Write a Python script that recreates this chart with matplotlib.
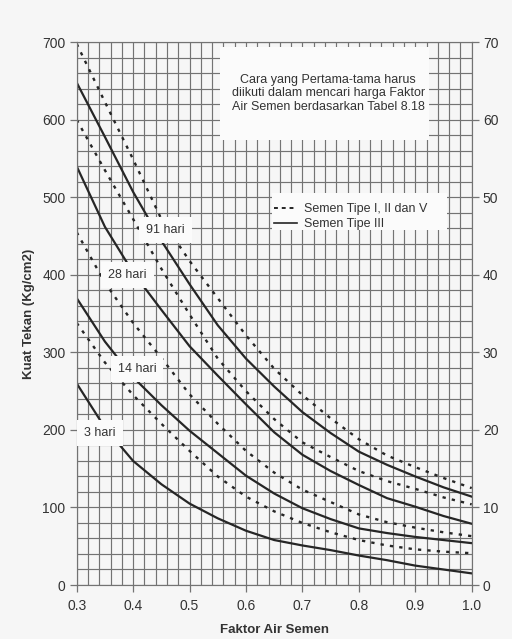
import matplotlib.pyplot as plt
from matplotlib.patches import Rectangle
from matplotlib.lines import Line2D
import numpy as np

plt.rcParams['font.family'] = ['Liberation Sans', 'DejaVu Sans']

# faktor air semen (x)
fas = [0.30, 0.35, 0.40, 0.45, 0.50, 0.55, 0.60, 0.65, 0.70, 0.75, 0.80, 0.85, 0.90, 0.95, 1.00]

# kuat tekan (kg/cm2)
tipe1_91 = [698, 623, 549, 472, 418, 370, 322, 279, 245, 215, 188, 167, 152, 138, 125]
tipe3_91 = [648, 578, 507, 444, 388, 335, 292, 256, 223, 196, 172, 155, 140, 126, 114]
tipe1_28 = [600, 535, 472, 408, 349, 292, 250, 214, 184, 165, 147, 134, 124, 113, 104]
tipe3_28 = [540, 462, 403, 355, 308, 270, 233, 197, 168, 147, 129, 112, 101, 89, 79]
tipe1_14 = [455, 390, 338, 293, 246, 208, 173, 145, 123, 107, 91, 81, 74, 68, 63]
tipe3_14 = [370, 314, 268, 232, 199, 170, 141, 118, 99, 85, 73, 67, 62, 58, 54]
tipe1_3 = [338, 287, 245, 208, 173, 140, 114, 95, 80, 68, 58, 51, 46, 43, 41]
tipe3_3 = [260, 203, 160, 130, 105, 86, 70, 58, 51, 45, 38, 32, 25, 20, 15]

dashed = [tipe1_91, tipe1_28, tipe1_14, tipe1_3]
solid = [tipe3_91, tipe3_28, tipe3_14, tipe3_3]

labels = ['91 hari', '28 hari', '14 hari', '3 hari']
label_x = [0.457, 0.390, 0.407, 0.341]
label_y = [458, 400, 279, 196]

note = 'Cara yang Pertama-tama harus\ndiikuti dalam mencari harga Faktor\nAir Semen berdasarkan Tabel 8.18'

bg = '#f6f6f6'
ink = '#262626'
gridc = '#737373'

fig = plt.figure(figsize=(5.12, 6.39), dpi=100, facecolor=bg)
ax = fig.add_axes([0.1498, 0.0845, 0.7715, 0.8493])
ax.set_facecolor(bg)

ax.set_xlim(0.3, 1.0)
ax.set_ylim(0, 700)
ax.set_xticks(np.arange(0.3, 1.001, 0.1))
ax.set_xticklabels(['0.3', '0.4', '0.5', '0.6', '0.7', '0.8', '0.9', '1.0'])
ax.set_xticks(np.arange(0.3, 1.001, 0.02), minor=True)
ax.set_yticks(np.arange(0, 701, 100))
ax.set_yticks(np.arange(0, 701, 20), minor=True)
ax.set_axisbelow(True)
ax.grid(which='both', color=gridc, linewidth=0.85)
ax.tick_params(which='major', length=5, width=0.9, color=gridc, labelsize=10, labelcolor='#333333', pad=3)
ax.tick_params(axis='x', pad=5)
ax.tick_params(which='minor', length=0)
for s in ax.spines.values():
    s.set_color(gridc)
    s.set_linewidth(0.85)

# right axis in MPa-like scale
ax2 = ax.twinx()
ax2.set_ylim(0, 70)
ax2.set_yticks(np.arange(0, 71, 10))
ax2.tick_params(length=5, width=0.9, color=gridc, labelsize=10, labelcolor='#333333', pad=3)
for s in ax2.spines.values():
    s.set_visible(False)

ax.set_xlabel('Faktor Air Semen', fontsize=9.5, fontweight='bold', color='#333333', labelpad=8)
ax.set_ylabel('Kuat Tekan (Kg/cm2)', fontsize=9.5, fontweight='bold', color='#333333', labelpad=5)

# white boxes that hide the grid
ax.add_patch(Rectangle((0.554, 574), 0.37, 120, facecolor='#fbfbfb', edgecolor='none', zorder=1))
ax.add_patch(Rectangle((0.646, 458), 0.311, 47, facecolor='#fbfbfb', edgecolor='none', zorder=1))

for y in dashed:
    ax.plot(fas, y, color=ink, linewidth=1.7, linestyle=(0, (1.4, 2.6)), zorder=2)
for y in solid:
    ax.plot(fas, y, color=ink, linewidth=1.6, zorder=2)

for t, lx, ly in zip(labels, label_x, label_y):
    ax.text(lx, ly, t, fontsize=9, color='#333333', ha='center', va='center', zorder=4,
            bbox=dict(facecolor='#fbfbfb', edgecolor='none', pad=5))

ax.text(0.746, 634, note, fontsize=9, color='#333333', ha='center', va='center',
        linespacing=1.15, zorder=4)

handles = [Line2D([], [], color=ink, linewidth=1.4, linestyle=(0, (2, 2))),
           Line2D([], [], color=ink, linewidth=1.2)]
leg = ax.legend(handles, ['Semen Tipe I, II dan V', 'Semen Tipe III'], loc='center',
                bbox_to_anchor=(0.786, 475), bbox_transform=ax.transData, frameon=False,
                fontsize=9, handlelength=1.8, handletextpad=0.6, labelspacing=0.25)
for t in leg.get_texts():
    t.set_color('#333333')
leg.set_zorder(5)

fig.savefig('out.png', dpi=100, facecolor=bg)
